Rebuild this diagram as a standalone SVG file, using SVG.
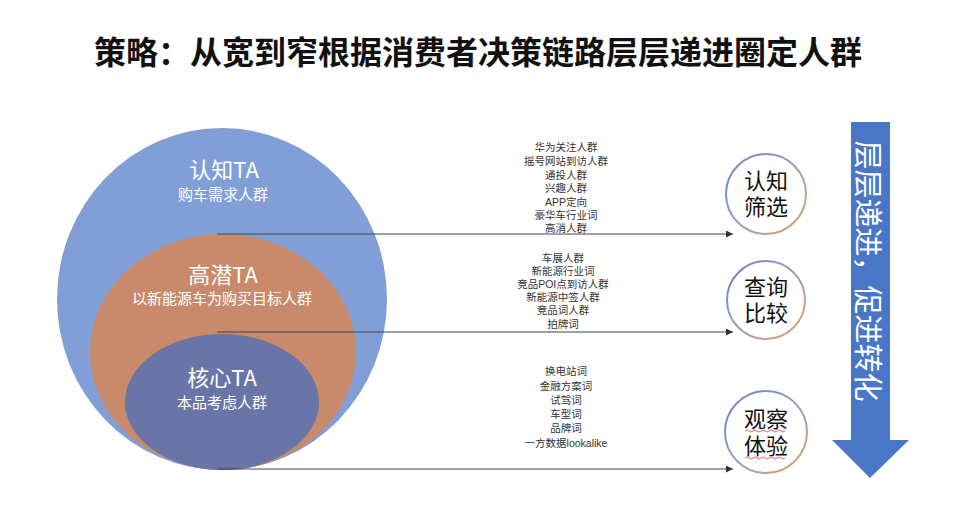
<svg xmlns="http://www.w3.org/2000/svg" width="960" height="509" viewBox="0 0 960 509">
<defs>
<style>
.title{font-family:"Noto Sans CJK SC","Noto Sans",sans-serif;font-weight:bold;font-size:32px;fill:#111}
.ta{font-family:"Noto Sans CJK SC","Noto Sans",sans-serif;font-size:22px;fill:#fff;text-anchor:middle}
.sub{font-family:"Noto Sans CJK SC","Noto Sans",sans-serif;font-size:15px;fill:#fff;text-anchor:middle}
.lst{font-family:"Liberation Sans","Noto Sans CJK SC",sans-serif;font-size:10.5px;fill:#333;text-anchor:middle}
.stage{font-family:"Liberation Sans","Noto Sans CJK SC",sans-serif;font-size:22px;fill:#111;text-anchor:middle}
.ring{fill:#fff;stroke:url(#rg);stroke-width:2}
.conn{stroke:#444;stroke-width:1;fill:none;marker-end:url(#ah)}
.wave{fill:none;stroke:#e04040;stroke-width:0.8}
</style>
<linearGradient id="rg" x1="0" y1="0" x2="1" y2="1">
<stop offset="0" stop-color="#6d7fc4"/>
<stop offset="0.5" stop-color="#9aa0c0"/>
<stop offset="1" stop-color="#e8a060"/>
</linearGradient>
<marker id="ah" viewBox="0 0 10 10" refX="10" refY="5" markerWidth="7" markerHeight="7" markerUnits="userSpaceOnUse" orient="auto">
<path d="M0,0 L10,5 L0,10 z" fill="#333"/>
</marker>
</defs>
<rect width="960" height="509" fill="#fff"/>
<text class="title" x="478" y="64" text-anchor="middle">策略：从宽到窄根据消费者决策链路层层递进圈定人群</text>

<g id="awareness-ta">
<ellipse cx="222" cy="299" rx="165" ry="171" fill="#819fd6"/>
<text class="ta" x="224" y="178">认知TA</text>
<text class="sub" x="223" y="200">购车需求人群</text>
</g>
<g id="high-potential-ta">
<ellipse cx="223" cy="352" rx="133" ry="118" fill="#c88a6a"/>
<text class="ta" x="223" y="283">高潜TA</text>
<text class="sub" x="222" y="304">以新能源车为购买目标人群</text>
</g>
<g id="core-ta">
<ellipse cx="222" cy="402" rx="97" ry="68" fill="#6a75a7"/>
<text class="ta" x="222" y="386">核心TA</text>
<text class="sub" x="222" y="408">本品考虑人群</text>
</g>

<g id="connectors">
<line class="conn" x1="217" y1="234" x2="733" y2="234"/>
<line class="conn" x1="217" y1="332" x2="733" y2="332"/>
<line class="conn" x1="217" y1="469" x2="733" y2="469"/>
</g>

<g id="list-awareness">
<text class="lst" x="566" y="151">华为关注人群</text>
<text class="lst" x="566" y="165">摇号网站到访人群</text>
<text class="lst" x="566" y="178.5">通投人群</text>
<text class="lst" x="566" y="192">兴趣人群</text>
<text class="lst" x="566" y="205.5">APP定向</text>
<text class="lst" x="566" y="219">豪华车行业词</text>
<text class="lst" x="566" y="232">高消人群</text>
</g>
<g id="list-high-potential">
<text class="lst" x="563" y="262">车展人群</text>
<text class="lst" x="563" y="275">新能源行业词</text>
<text class="lst" x="563" y="288">竞品POI点到访人群</text>
<text class="lst" x="563" y="301">新能源中签人群</text>
<text class="lst" x="563" y="314">竞品词人群</text>
<text class="lst" x="563" y="328">拍牌词</text>
</g>
<g id="list-core">
<text class="lst" x="566" y="375">换电站词</text>
<text class="lst" x="566" y="389.5">金融方案词</text>
<text class="lst" x="566" y="403.5">试驾词</text>
<text class="lst" x="566" y="418">车型词</text>
<text class="lst" x="566" y="432">品牌词</text>
<text class="lst" x="566" y="446.5">一方数据lookalike</text>
</g>

<g id="stage-awareness">
<circle class="ring" cx="766" cy="194" r="40"/>
<text class="stage" x="766" y="189">认知<tspan x="766" dy="26">筛选</tspan></text>
</g>
<g id="stage-compare">
<circle class="ring" cx="766" cy="300" r="39"/>
<text class="stage" x="766" y="295">查询<tspan x="766" dy="26">比较</tspan></text>
</g>
<g id="stage-experience">
<circle class="ring" cx="766" cy="432" r="41"/>
<text class="stage" x="766" y="427">观察<tspan x="766" dy="27">体验</tspan></text>
<path class="wave" d="M745,431 q2,-2 4,0 t4,0 t4,0 t4,0 t4,0 t4,0 t4,0 t4,0 t4,0 t4,0"/>
<path class="wave" d="M745,458 q2,-2 4,0 t4,0 t4,0 t4,0 t4,0 t4,0 t4,0 t4,0 t4,0 t4,0"/>
</g>

<g id="progress-arrow">
<path d="M851,122 L890,122 L890,440 L909,440 L870,478 L832,440 L851,440 Z" fill="#4a76c8"/>
<text transform="translate(870,271) rotate(90)" font-family="Noto Sans CJK SC, Noto Sans, sans-serif" font-size="29" fill="#fff" text-anchor="middle" dominant-baseline="central">层层递进，促进转化</text>
</g>
</svg>
